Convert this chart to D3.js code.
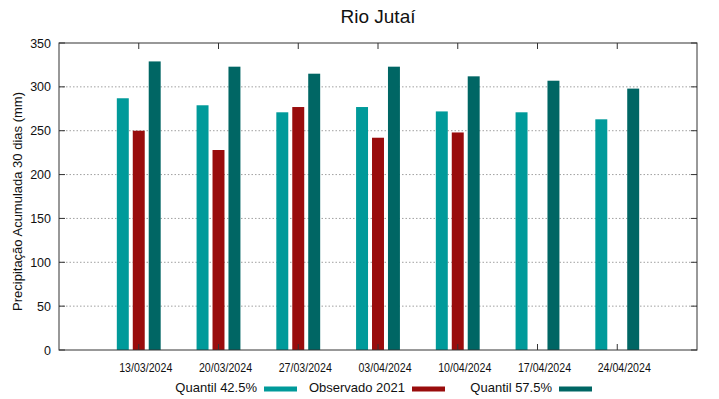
<!DOCTYPE html>
<html>
<head>
<meta charset="utf-8">
<script src="https://cdn.jsdelivr.net/npm/d3@7"></script>
<style>
  body { margin: 0; background: #fff; }
  svg { display: block; font-family: "Liberation Sans", Arial, sans-serif; }
</style>
</head>
<body>
<svg id="chart" width="719" height="399"></svg>
<script>
// ===== Data =====
const dates   = ['13/03/2024', '20/03/2024', '27/03/2024', '03/04/2024', '10/04/2024', '17/04/2024', '24/04/2024'];
const q425    = [287, 279, 271, 277, 272, 271, 263];
const obs2021 = [250, 228, 277, 242, 248, null, null];
const q575    = [329, 323, 315, 323, 312, 307, 298];
const yTicks  = [0, 50, 100, 150, 200, 250, 300, 350];

const series = [
    { name: 'Quantil 42.5%',  values: q425,    color: '#009a9a', offset: -0.2 },
    { name: 'Observado 2021', values: obs2021, color: '#990c0c', offset: 0 },
    { name: 'Quantil 57.5%',  values: q575,    color: '#006664', offset: 0.2 }
];

// ===== Layout =====
const plot = { left: 59, right: 697, top: 43, bottom: 350 };
const svg = d3.select('#chart');

const x = d3.scaleLinear().domain([-1, 7]).range([plot.left, plot.right]);
const y = d3.scaleLinear().domain([0, 350]).range([plot.bottom, plot.top]);
const barW = x(0.15) - x(0);

// Title
svg.append('text')
    .attr('x', (plot.left + plot.right) / 2).attr('y', 23)
    .attr('text-anchor', 'middle')
    .style('font-size', '19px').style('fill', '#111')
    .text('Rio Jutaí');

// Horizontal dotted grid
svg.append('g').selectAll('line')
    .data(yTicks.filter(t => t > 0 && t < 350))
    .join('line')
    .attr('x1', plot.left).attr('x2', plot.right)
    .attr('y1', d => y(d)).attr('y2', d => y(d))
    .style('stroke', '#a0a0a0').style('stroke-width', '1px')
    .style('stroke-dasharray', '1.5,2');

// Bars
series.forEach(s => {
    svg.append('g').selectAll('rect')
        .data(s.values.map((v, i) => ({ v, i })).filter(d => d.v != null))
        .join('rect')
        .attr('x', d => x(d.i + s.offset) - barW / 2)
        .attr('y', d => y(d.v))
        .attr('width', barW)
        .attr('height', d => y(0) - y(d.v))
        .style('fill', s.color);
});

// Border box
svg.append('rect')
    .attr('x', plot.left).attr('y', plot.top)
    .attr('width', plot.right - plot.left).attr('height', plot.bottom - plot.top)
    .style('fill', 'none').style('stroke', '#333').style('stroke-width', '1px');

// Y ticks (inward, both sides) + labels
const yAxis = svg.append('g');
yTicks.forEach(t => {
    yAxis.append('line')
        .attr('x1', plot.left).attr('x2', plot.left + 6)
        .attr('y1', y(t)).attr('y2', y(t))
        .style('stroke', '#333');
    yAxis.append('line')
        .attr('x1', plot.right).attr('x2', plot.right - 6)
        .attr('y1', y(t)).attr('y2', y(t))
        .style('stroke', '#333');
    yAxis.append('text')
        .attr('x', 51).attr('y', y(t) + 4.5)
        .attr('text-anchor', 'end')
        .style('font-size', '12.5px').style('fill', '#111')
        .text(t);
});

// X ticks (inward, bottom and top) + labels
const xAxis = svg.append('g');
dates.forEach((d, i) => {
    xAxis.append('line')
        .attr('x1', x(i)).attr('x2', x(i))
        .attr('y1', plot.bottom).attr('y2', plot.bottom - 6)
        .style('stroke', '#333');
    xAxis.append('line')
        .attr('x1', x(i)).attr('x2', x(i))
        .attr('y1', plot.top).attr('y2', plot.top + 6)
        .style('stroke', '#333');
    xAxis.append('text')
        .attr('transform', `translate(${x(i) + 7},372) scale(0.85,1)`)
        .attr('text-anchor', 'middle')
        .style('font-size', '12.5px').style('fill', '#111')
        .text(d);
});

// Y axis title
svg.append('text')
    .attr('transform', `translate(21.5,${(plot.top + plot.bottom) / 2 + 5}) rotate(-90)`)
    .attr('text-anchor', 'middle')
    .style('font-size', '13px').style('fill', '#111')
    .text('Precipitação Acumulada 30 dias (mm)');

// Legend (text right-aligned before each swatch)
const legendSwatchX = [264, 412, 559];
const legend = svg.append('g');
series.forEach((s, i) => {
    legend.append('text')
        .attr('x', legendSwatchX[i] - 7).attr('y', 392)
        .attr('text-anchor', 'end')
        .style('font-size', '13px').style('fill', '#111')
        .text(s.name);
    legend.append('rect')
        .attr('x', legendSwatchX[i]).attr('y', 386.5)
        .attr('width', 33).attr('height', 5)
        .style('fill', s.color);
});
</script>
</body>
</html>
